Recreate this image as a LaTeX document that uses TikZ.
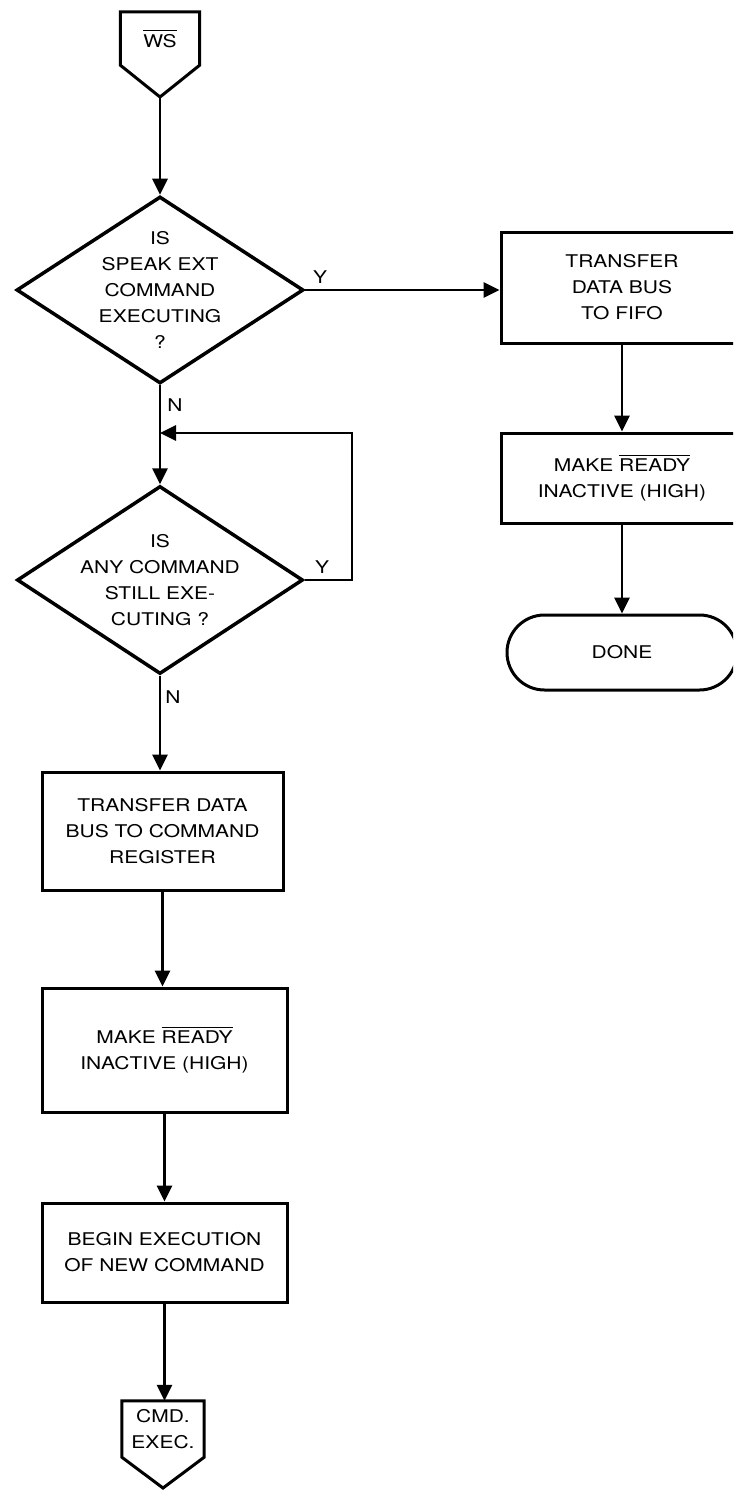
\documentclass[tikz,border=0pt]{standalone}
\usepackage{fontspec}
\usepackage{graphicx}
\usetikzlibrary{arrows.meta,calc,shapes.geometric}
\newfontfamily\lbl{TeX Gyre Heros}
\newcommand\myovl[1]{\leavevmode\vbox{\hrule height 1.3pt\kern 3pt\hbox{#1}}}
\newcommand\stx[1]{\scalebox{1.2}[1]{#1}}
\begin{document}
\begin{tikzpicture}[x=1pt,y=-1pt,
  every node/.style={font=\lbl\fontsize{17.5}{26}\selectfont, align=center},
  box/.style={draw, rectangle, line width=3pt, inner sep=0pt},
  dia/.style={draw, diamond, line width=3.5pt, inner sep=0pt},
  ghost/.style={rectangle, inner sep=0pt},
  shapeline/.style={line width=3pt, line join=miter},
  conn/.style={line width=2.8pt, -{Triangle[length=16pt,width=15pt]}},
  lab/.style={inner sep=0pt}]
\useasboundingbox (0,0) rectangle (733,1490);
\fill[white] (0,0) rectangle (733,1490);
\clip (0,0) rectangle (733,1490);

% start connector
\node[ghost, minimum width=79pt, minimum height=53pt] (ws) at (160,38.5) {\stx{\myovl{WS}}};
\coordinate (wstip) at (160,97);
\draw[shapeline] (ws.south west) -- (ws.north west) -- (ws.north east) -- (ws.south east) -- (wstip) -- cycle;

% decisions
\node[dia, minimum width=287pt, minimum height=187pt] (d1) at (160,290) {};
\node (t1) at (d1.center) {\stx{IS}\\\stx{SPEAK EXT}\\\stx{COMMAND}\\\stx{EXECUTING}\\\stx{?}};
\node[dia, minimum width=286pt, minimum height=188pt] (d2) at (160,580) {};
\node (t2) at (d2.center) {\stx{IS}\\\stx{ANY COMMAND}\\\stx{STILL EXE-}\\\stx{CUTING ?}};

% right column
\node[box, minimum width=242pt, minimum height=111pt] (b1) at (622,287.5) {\stx{TRANSFER}\\\stx{DATA BUS}\\\stx{TO FIFO}};
\node[box, minimum width=242pt, minimum height=90pt] (b2) at (622,478) {\stx{MAKE \myovl{READY}}\\\stx{INACTIVE (HIGH)}};
\node[box, rounded corners=37.5pt, minimum width=230pt, minimum height=75pt] (done) at (622,652.5) {\stx{DONE}};

% left column
\node[box, minimum width=241pt, minimum height=118pt] (b3) at (162.5,831) {\stx{TRANSFER DATA}\\\stx{BUS TO COMMAND}\\\stx{REGISTER}};
\node[box, minimum width=245pt, minimum height=124pt] (b4) at (164.5,1050) {\stx{MAKE \myovl{READY}}\\\stx{INACTIVE (HIGH)}};
\node[box, minimum width=245pt, minimum height=99pt] (b5) at (164.5,1252.5) {\stx{BEGIN EXECUTION}\\\stx{OF NEW COMMAND}};

% end connector
\node[ghost, minimum width=82pt, minimum height=56pt] (cmd) at (163,1429) {\stx{CMD.}\\\stx{EXEC.}};
\coordinate (cmdtip) at (163,1488);
\draw[shapeline] (cmd.south west) -- (cmd.north west) -- (cmd.north east) -- (cmd.south east) -- (cmdtip) -- cycle;

% connectors
\draw[conn] (wstip) -- (d1.north);
\draw[conn] (d1.east) -- (d1.east -| b1.west);
\draw[conn] (d1.south) -- (d2.north);
\coordinate (loopc) at (352,433);
\draw[conn] (d2.east) -| (loopc) -- (loopc -| d1.south);
\draw[conn] (d2.south) -- (d2.south |- b3.north);
\draw[conn] (b3.south) -- (b3.south |- b4.north);
\draw[conn] (b4.south) -- (b4.south |- b5.north);
\draw[conn] (b5.south) -- (b5.south |- cmd.north);
\draw[conn] (b1.south) -- (b2.north);
\draw[conn] (b2.south) -- (done.north);

% branch labels
\node[lab] (y1) at (320,277) {\stx{Y}};
\node[lab] (n1) at (175,405) {\stx{N}};
\node[lab] (y2) at (322,567) {\stx{Y}};
\node[lab] (n2) at (173,697) {\stx{N}};
\end{tikzpicture}
\end{document}
